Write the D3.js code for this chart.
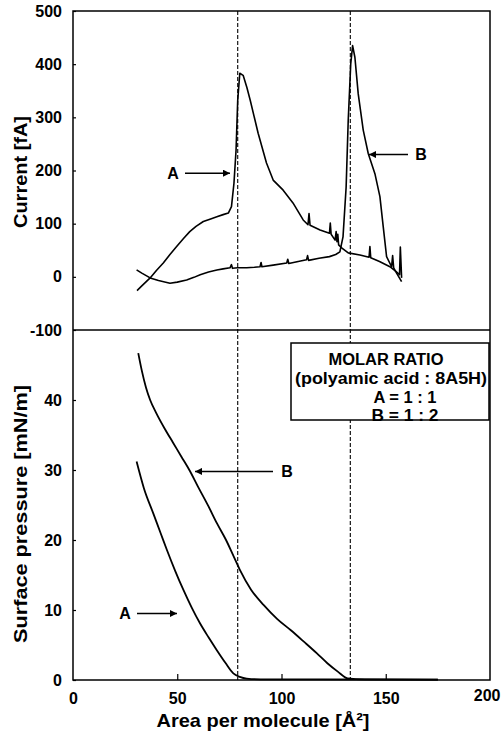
<!DOCTYPE html>
<html>
<head>
<meta charset="utf-8">
<script src="https://cdn.jsdelivr.net/npm/d3@7"></script>
<style>
  body { margin: 0; background: #fff; }
  svg text { font-family: "Liberation Sans", Arial, sans-serif; font-weight: bold; fill: #000; }
</style>
</head>
<body>
<svg width="502" height="737"></svg>
<script>
// Current curves (top panel): [area, current fA]
var currentA = [[30.7,-26],[33,-17],[37,-2],[40,12],[43.3,26],[46.5,42],[49.7,57],[53,72],[56,85],[59,95],
  [62.5,104],[66,109],[69,113],[72,117],[74.5,120],[76,132],[77.2,176],[78.2,238],[79,332],[80,383],
  [81.6,379],[83.4,356],[85,332],[88.8,270],[92.8,214],[96,182],[100.8,163],[105.5,139],[110.4,107],
  [112.7,98],[113.2,119],[113.7,97],[118.5,88],[123,82],[123.4,101],[123.8,80],[125.7,69],[126.2,85],
  [126.6,66],[127,80],[127.4,60],[129,54],[132,45],[137.6,41],[142,37],[142.4,57],[142.8,36],[147,29],
  [152,19],[155,10],[156.6,4],[157,56],[157.6,-2]]
var currentB = [[30.5,13],[33,7],[37,-2],[41,-7],[46.5,-12],[50,-10],[54.5,-6],[58,-1],[61,4],[65,9],
  [69,13],[72,15],[75.3,17],[76,23],[76.5,16],[79,17],[83.3,17],[87,18],[89.7,19],[90.2,27],[90.6,19],
  [96,22],[102.5,26],[103,33],[103.5,25],[108,29],[112,32],[112.5,40],[113,31],[118,35],[123,38],
  [126,42],[128,47],[129.5,75],[131,169],[132,294],[133.2,400],[134.1,435],[135.2,413],[136.8,344],
  [139.2,276],[141.6,232],[144.8,194],[147.2,151],[148.8,94],[150.4,38],[152.8,19],[153.3,40],
  [153.8,17],[155.2,7],[157.6,-9]]

// Surface pressure curves (bottom panel): [area, mN/m]
var pressureA = [[30.5,31.2],[34,27.4],[38.5,23.8],[42,21],[45,18.6],[49,15.6],[52.9,12.9],[57,10.3],
  [60.9,8.1],[65,6.1],[68.9,4.3],[73,2.5],[76.9,0.95],[80,0.45],[83.3,0.2],[90,0.1],[120,0.1],[175,0.05]]
var pressureB = [[31.3,46.7],[33,44.2],[35,41.8],[37,40],[40,38.1],[44,35.9],[48,33.9],[52,31.9],
  [56,29.9],[60,27.6],[65,24.8],[69,22.4],[73.4,20],[77,17.7],[80.1,15.7],[85.4,12.9],[91.5,10.7],
  [98,8.7],[104.5,7.1],[111,5.4],[117,3.8],[122,2.4],[127,1.2],[131.7,0.24],[140,0.1],[175,0.05]]

var dashAreas = [79, 133]
var xTicks = [0, 50, 100, 150, 200]
var topTicks = [-100, 0, 100, 200, 300, 400, 500]
var bottomTicks = [0, 10, 20, 30, 40]
var legendLines = ['MOLAR RATIO', '(polyamic acid : 8A5H)', 'A = 1 : 1', 'B = 1 : 2']

var svg = d3.select('svg')

var x = d3.scaleLinear().domain([0, 200]).range([73, 490])
var yTop = d3.scaleLinear().domain([-100, 500]).range([330, 11])
var yBot = d3.scaleLinear().domain([0, 50]).range([680, 330])

// arrow head
svg.append('defs').append('marker')
  .attr('id', 'head')
  .attr('viewBox', '0 0 10 10')
  .attr('refX', 10).attr('refY', 5)
  .attr('markerWidth', 9).attr('markerHeight', 7)
  .attr('markerUnits', 'userSpaceOnUse')
  .attr('orient', 'auto')
  .append('path').attr('d', 'M0,0L10,5L0,10Z').attr('fill', '#000')

// axes
var plain = d => String(d)
function styleAxis(g) {
  g.select('.domain').remove()
  g.selectAll('.tick line').attr('stroke', '#000').attr('stroke-width', 1.2)
  g.selectAll('text').attr('font-size', 16)
}

svg.append('g')
  .attr('transform', 'translate(0,680)')
  .call(d3.axisBottom(x).tickValues(xTicks.slice(1, 4)).tickSize(-6).tickFormat(''))
  .call(styleAxis)
var xAxis = svg.append('g')
  .attr('transform', 'translate(0,680)')
  .call(d3.axisBottom(x).tickValues(xTicks).tickSize(0).tickPadding(13).tickFormat(plain))
  .call(styleAxis)
// last label sits against the page edge, as in the original
xAxis.selectAll('.tick text').filter(d => d === 200)
  .attr('text-anchor', 'end').attr('x', 10).attr('y', 10)

svg.append('g')
  .attr('transform', 'translate(73,0)')
  .call(d3.axisLeft(yTop).tickValues(topTicks).tickSize(-3).tickPadding(11).tickFormat(plain))
  .call(styleAxis)
svg.append('g')
  .attr('transform', 'translate(73,0)')
  .call(d3.axisLeft(yBot).tickValues(bottomTicks).tickSize(-3).tickPadding(11).tickFormat(plain))
  .call(styleAxis)

// frame + divider
svg.append('rect')
  .attr('x', x(0)).attr('y', yTop(500))
  .attr('width', x(200) - x(0)).attr('height', yBot(0) - yTop(500))
  .attr('fill', 'none').attr('stroke', '#000').attr('stroke-width', 1.5)
svg.append('line')
  .attr('x1', x(0)).attr('x2', x(200))
  .attr('y1', yTop(-100)).attr('y2', yTop(-100))
  .attr('stroke', '#000').attr('stroke-width', 1.5)

// dashed guide lines
svg.selectAll('.guide').data(dashAreas).enter().append('line')
  .attr('x1', d => x(d)).attr('x2', d => x(d))
  .attr('y1', yTop(500)).attr('y2', yBot(0))
  .attr('stroke', '#000').attr('stroke-width', 1.1)
  .attr('stroke-dasharray', '4,2')

// curves
var lineTop = d3.line().x(d => x(d[0])).y(d => yTop(d[1]))
var lineBot = d3.line().x(d => x(d[0])).y(d => yBot(d[1])).curve(d3.curveMonotoneX)

;[currentA, currentB].forEach(function(s) {
  svg.append('path').attr('d', lineTop(s))
    .attr('fill', 'none').attr('stroke', '#000').attr('stroke-width', 1.6)
    .attr('stroke-linejoin', 'round')
})
;[pressureA, pressureB].forEach(function(s) {
  svg.append('path').attr('d', lineBot(s))
    .attr('fill', 'none').attr('stroke', '#000').attr('stroke-width', 1.8)
})

// arrow labels
function arrow(x1, x2, y, label, lx) {
  svg.append('line')
    .attr('x1', x1).attr('x2', x2).attr('y1', y).attr('y2', y)
    .attr('stroke', '#000').attr('stroke-width', 1.5)
    .attr('marker-end', 'url(#head)')
  svg.append('text').attr('x', lx).attr('y', y)
    .attr('dy', '0.36em').attr('text-anchor', 'middle')
    .attr('font-size', 16).text(label)
}
arrow(185, 230, yTop(195), 'A', 173)
arrow(408, 369, yTop(230), 'B', 421)
arrow(273, 195, yBot(29.8), 'B', 287)
arrow(137, 177, yBot(9.5), 'A', 125)

// legend box
svg.append('rect')
  .attr('x', 291).attr('y', 343).attr('width', 198).attr('height', 77)
  .attr('fill', '#fff').attr('stroke', '#000').attr('stroke-width', 1.5)
var legY = [359, 378, 397, 415]
var legX = [386, 391, 405, 405]
var legW = [115, 192, 63, 67]
svg.selectAll('.leg').data(legendLines).enter().append('text')
  .attr('x', (d, i) => legX[i]).attr('y', (d, i) => legY[i])
  .attr('dy', '0.36em').attr('text-anchor', 'middle')
  .attr('font-size', 16)
  .attr('textLength', (d, i) => legW[i]).attr('lengthAdjust', 'spacingAndGlyphs')
  .text(d => d)

// axis titles
svg.append('text')
  .attr('transform', 'translate(27,172) rotate(-90)')
  .attr('text-anchor', 'middle').attr('font-size', 19)
  .attr('textLength', 112).attr('lengthAdjust', 'spacingAndGlyphs')
  .text('Current [fA]')
svg.append('text')
  .attr('transform', 'translate(27,514) rotate(-90)')
  .attr('text-anchor', 'middle').attr('font-size', 19)
  .attr('textLength', 258).attr('lengthAdjust', 'spacingAndGlyphs')
  .text('Surface pressure [mN/m]')
svg.append('text')
  .attr('x', 263).attr('y', 720).attr('dy', '0.36em')
  .attr('text-anchor', 'middle').attr('font-size', 19)
  .attr('textLength', 213).attr('lengthAdjust', 'spacingAndGlyphs')
  .text('Area per molecule [Å²]')
</script>
</body>
</html>
